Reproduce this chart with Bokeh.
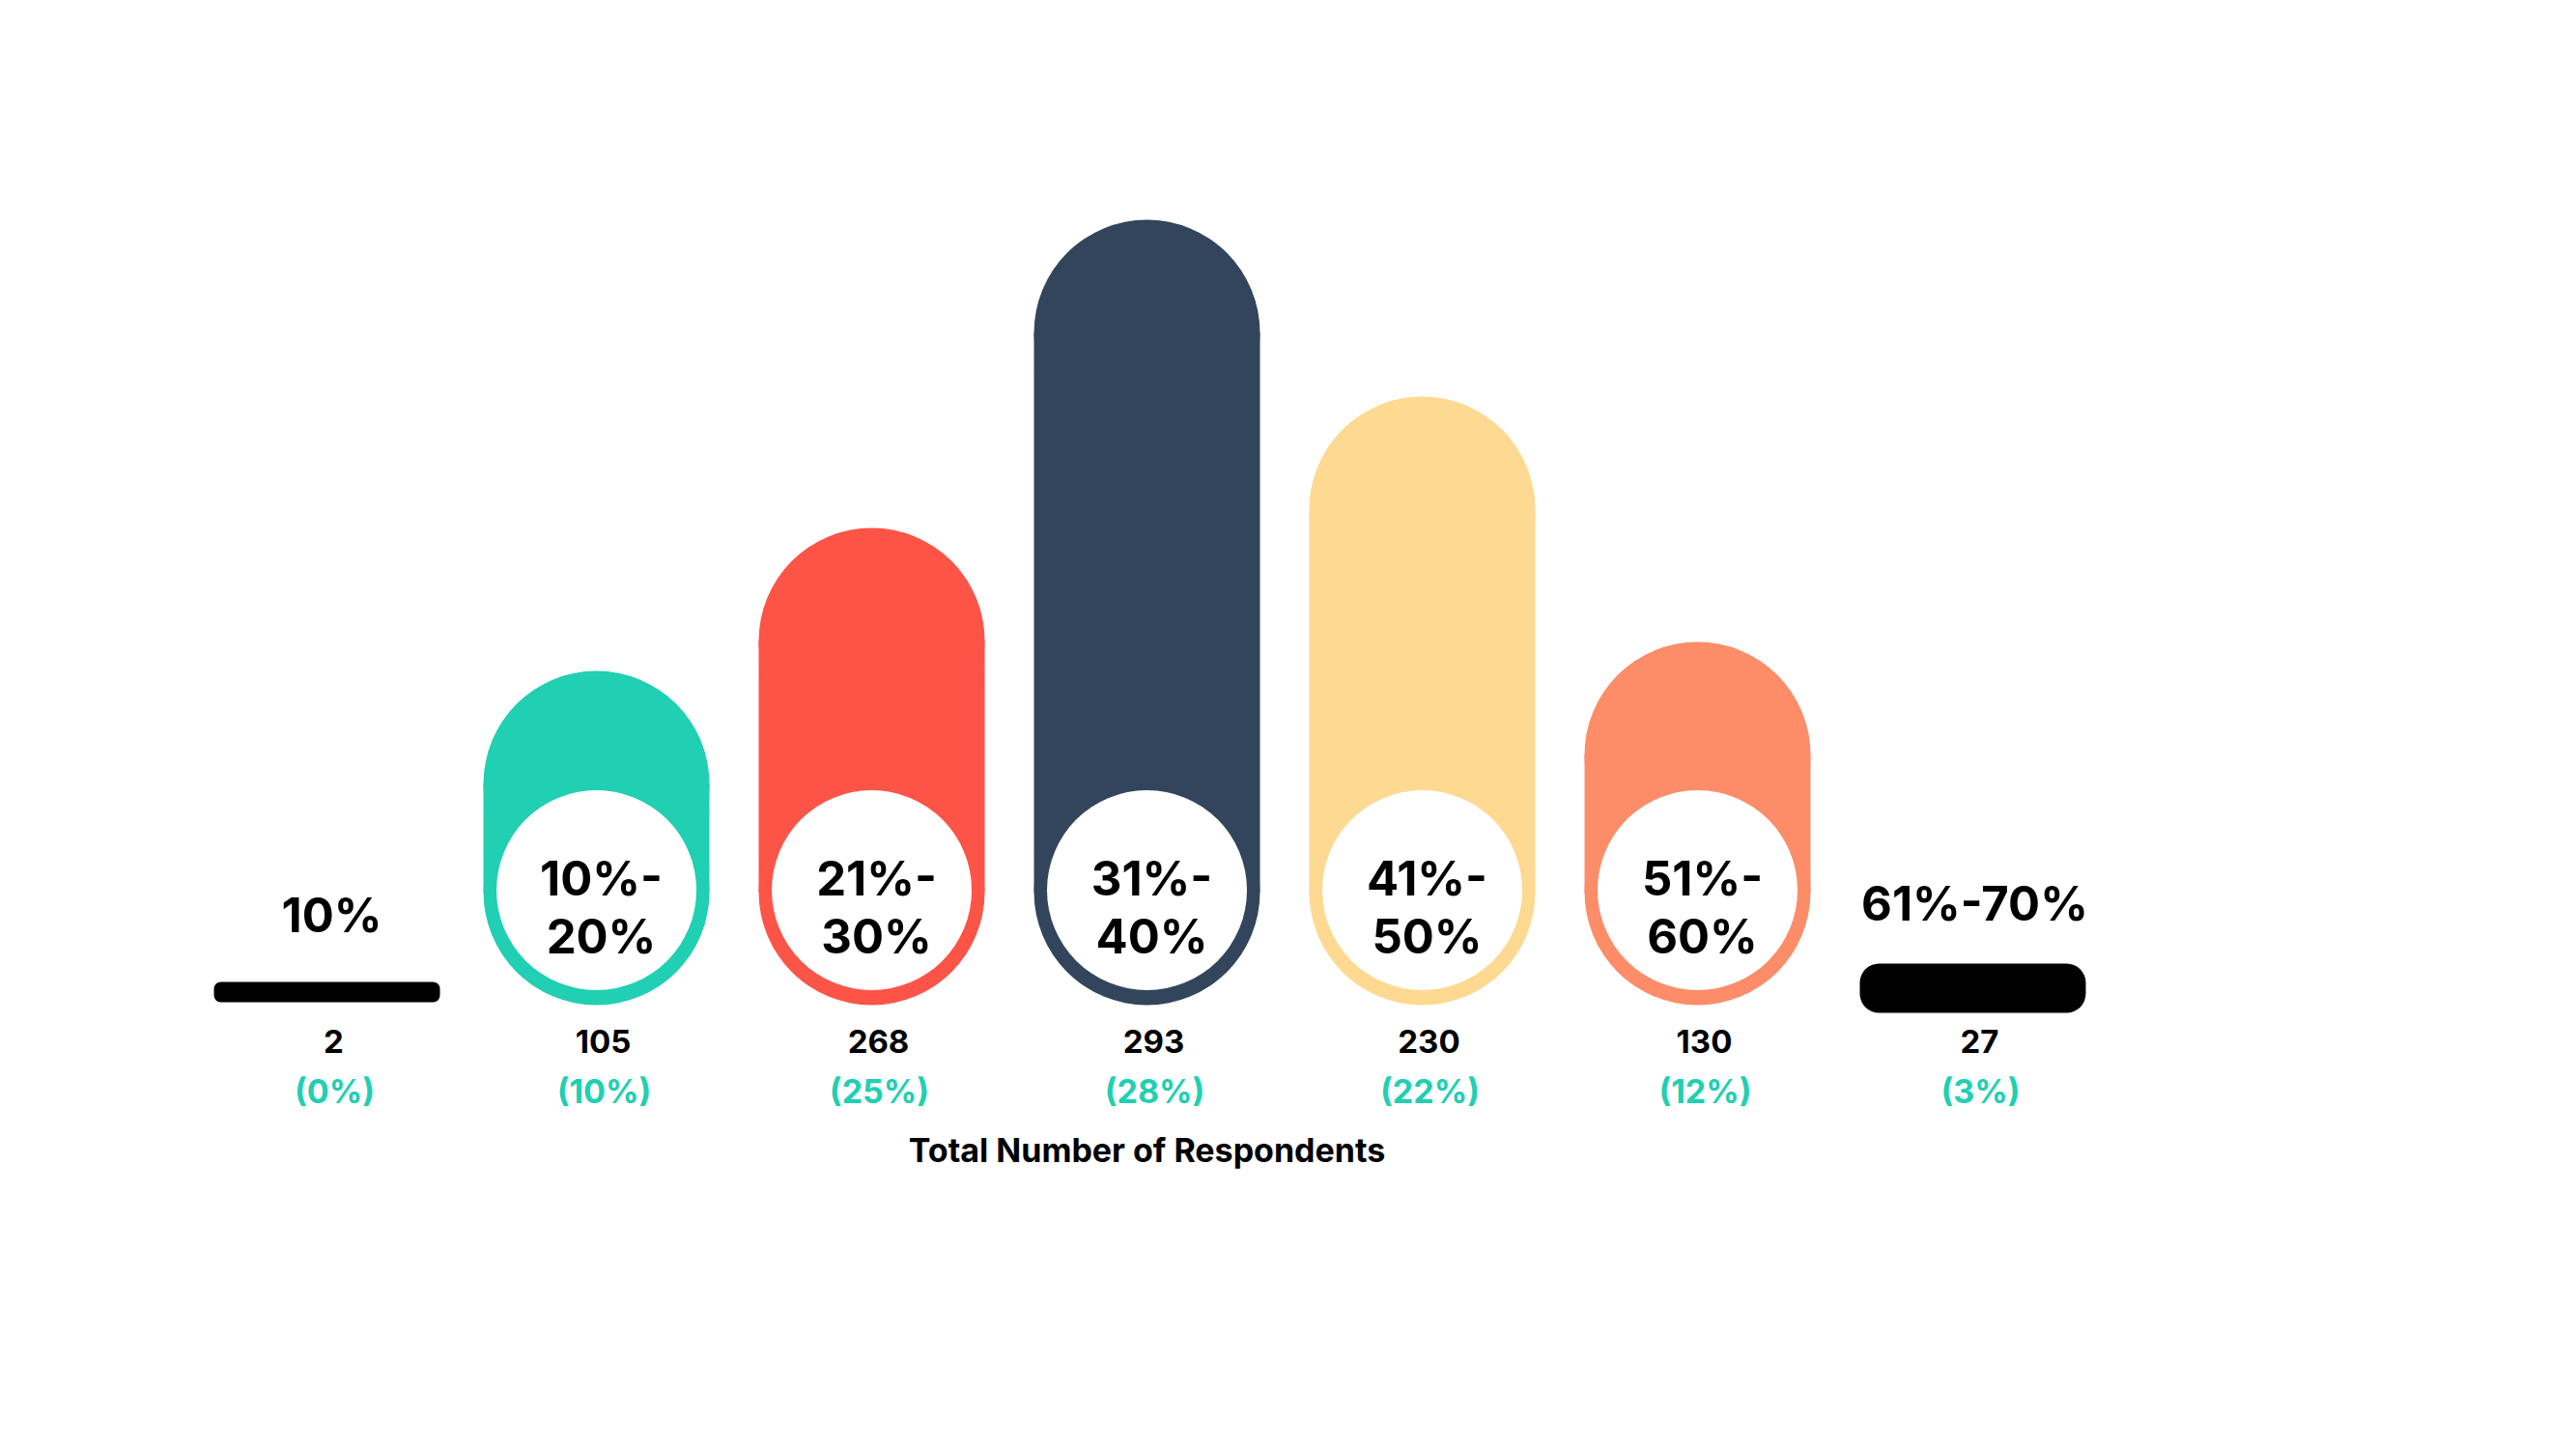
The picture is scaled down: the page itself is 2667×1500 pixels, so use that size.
from bokeh.plotting import figure
from bokeh.models import Range1d
from bokeh.embed import file_html
from bokeh.resources import INLINE
from bokeh.core.properties import value

# ---------------- data ----------------
categories = ["10%", "10%-20%", "21%-30%", "31%-40%", "41%-50%", "51%-60%", "61%-70%"]
respondents = [2, 105, 268, 293, 230, 130, 27]
shares = ["(0%)", "(10%)", "(25%)", "(28%)", "(22%)", "(12%)", "(3%)"]

# rounded "pill" bars (categories 1..5): visual bar heights above the baseline
pill_idx = [1, 2, 3, 4, 5]
pill_height = [346, 494, 813, 630, 376]
pill_line1 = ["10%-", "21%-", "31%-", "41%-", "51%-"]
pill_line2 = ["20%", "30%", "40%", "50%", "60%"]
pill_colors = ["#21CFB2", "#FC5447", "#32455C", "#FED992", "#FC8D68"]

# flat black bars (categories 0 and 6): visual thickness
flat_idx = [0, 6]
flat_thickness = [21, 51]
flat_label = ["10%", "61%-70%"]

title_text = "Total Number of Respondents"

# ---------------- layout ----------------
W, H = 2651, 1484
PX_PER_CAT = 285.0
FIRST_CENTER_PX = 332.0
CAT_DX_PX = [6, 0, 0, 0, 0, 0, 0]   # small horizontal nudge per category
BASELINE_PX = 1040.0            # from the top of the plot
BAR_W = 234.0                   # px
R_OUT = BAR_W / 2.0
R_IN = 103.5
TEAL = "#21CFB2"
FONT = value("Inter")
BIG_DY = 18                     # baseline correction for large text
SMALL_DY = 12                   # baseline correction for small text

x0 = -FIRST_CENTER_PX / PX_PER_CAT
x1 = x0 + W / PX_PER_CAT
half_w = BAR_W / 2.0 / PX_PER_CAT
cat_x = [i + d / PX_PER_CAT for i, d in enumerate(CAT_DX_PX)]

p = figure(width=W, height=H, output_backend="svg", toolbar_location=None,
           x_range=Range1d(x0, x1), y_range=Range1d(BASELINE_PX - H, BASELINE_PX),
           min_border=0, x_axis_type=None, y_axis_type=None)
p.grid.visible = False
p.outline_line_color = None
p.background_fill_color = "white"
p.border_fill_color = "white"

# pill bars
px = [cat_x[i] for i in pill_idx]
rect_bottom = [R_OUT] * len(pill_idx)
rect_top = [h - R_OUT for h in pill_height]
p.quad(left=[x - half_w for x in px], right=[x + half_w for x in px],
       bottom=rect_bottom, top=rect_top, fill_color=pill_colors, line_color=None)
p.circle(x=px, y=rect_bottom, radius=R_OUT, radius_units="screen",
         fill_color=pill_colors, line_color=None)
p.circle(x=px, y=rect_top, radius=R_OUT, radius_units="screen",
         fill_color=pill_colors, line_color=None)

# white inner circles
inner_y = [R_OUT + 2] * len(pill_idx)
p.circle(x=px, y=inner_y, radius=R_IN, radius_units="screen",
         fill_color="white", line_color=None)

# range labels inside circles
p.text(x=px, y=[y - 6 + BIG_DY for y in inner_y], text=pill_line1, text_font=FONT,
       text_font_style="bold", text_font_size="49px", text_align="center",
       text_baseline="alphabetic", text_color="black", x_offset=5)
p.text(x=px, y=[y - 66 + BIG_DY for y in inner_y], text=pill_line2, text_font=FONT,
       text_font_style="bold", text_font_size="49px", text_align="center",
       text_baseline="alphabetic", text_color="black", x_offset=5)

# flat black bars
fx = [cat_x[i] for i in flat_idx]
flat_bottoms = [3, -8]
for x, th, bot, rad in zip(fx, flat_thickness, flat_bottoms, [7, 20]):
    p.quad(left=[x - half_w], right=[x + half_w], bottom=[bot], top=[bot + th],
           fill_color="black", line_color=None, border_radius=rad)
flat_label_y = [75 + BIG_DY, 87 + BIG_DY]
p.text(x=fx, y=flat_label_y, text=flat_label, text_font=FONT,
       text_font_style="bold", text_font_size="49px", text_align="center",
       text_baseline="alphabetic", text_color="black", x_offset=[5, 2])

# counts and shares
p.text(x=cat_x, y=[-49 + SMALL_DY] * len(cat_x), text=[str(v) for v in respondents], text_font=FONT,
       text_font_style="bold", text_font_size="33px", text_align="center",
       text_baseline="alphabetic", text_color="black", x_offset=7)
p.text(x=cat_x, y=[-101 + SMALL_DY] * len(cat_x), text=shares, text_font=FONT,
       text_font_style="bold", text_font_size="34px", text_align="center",
       text_baseline="alphabetic", text_color=TEAL, x_offset=8)

# caption
p.text(x=[cat_x[3]], y=[-162 + SMALL_DY], text=[title_text], text_font=FONT, text_font_style="bold",
       text_font_size="34px", text_align="center", text_baseline="alphabetic",
       text_color="black")

open("out.html", "w").write(file_html(p, INLINE))
